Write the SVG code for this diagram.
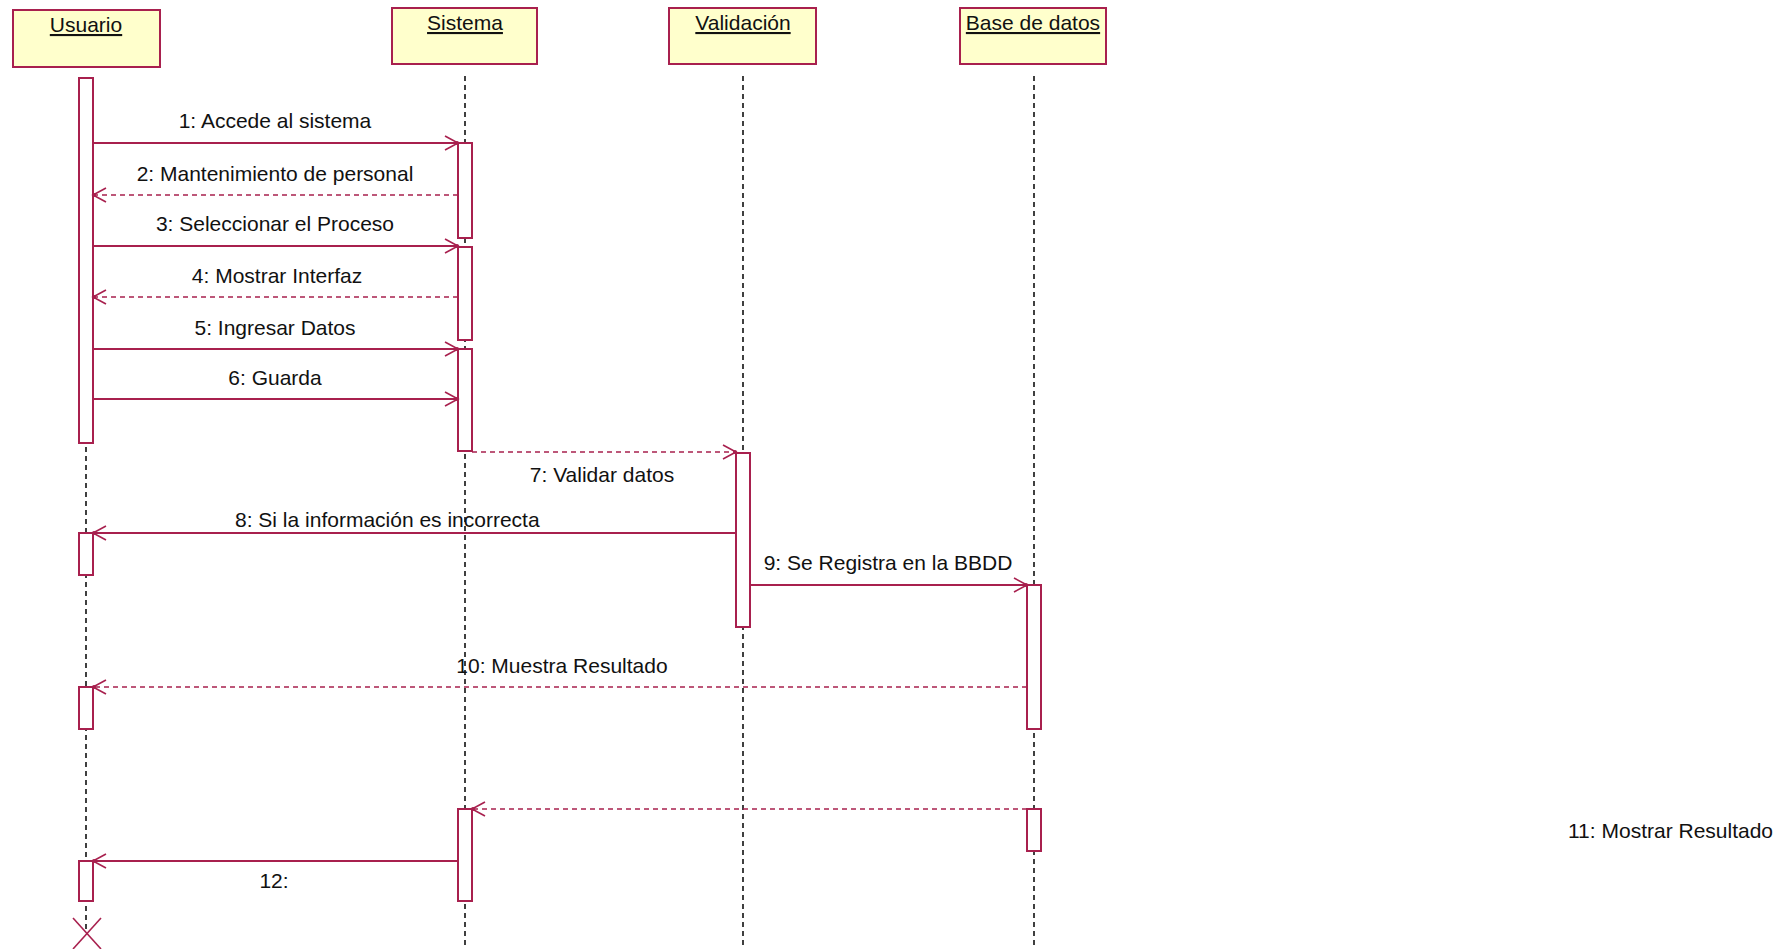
<svg xmlns="http://www.w3.org/2000/svg" width="1784" height="949" viewBox="0 0 1784 949">
<style>
.box{fill:#FFFFCC;stroke:#A8204E;stroke-width:2}
.bar{fill:#FFFFFF;stroke:#A8204E;stroke-width:2}
.life{stroke:#111;stroke-width:1.6;stroke-dasharray:5 4;fill:none}
.msg{stroke:#A8204E;stroke-width:2;fill:none;marker-end:url(#arr)}
.ret{stroke:#A8204E;stroke-width:1.6;stroke-dasharray:5 4;fill:none;marker-end:url(#arr)}
.t{font-family:"Liberation Sans",Arial,sans-serif;font-size:21px;fill:#111}
.h{font-family:"Liberation Sans",Arial,sans-serif;font-size:21px;fill:#111;text-decoration:underline;text-anchor:middle}
.c{text-anchor:middle}
</style>
<defs>
<marker id="arr" markerUnits="userSpaceOnUse" markerWidth="20" markerHeight="20" viewBox="-16 -10 20 20" refX="0" refY="0" orient="auto" overflow="visible">
<path d="M-13,-7 L0,0 L-13,7" fill="none" stroke="#A8204E" stroke-width="1.6"/>
<circle cx="-1" cy="0" r="2" fill="#A8204E"/>
</marker>
</defs>

<g id="lifelines">
<line class="life" x1="86" y1="78" x2="86" y2="932"/>
<line class="life" x1="465" y1="76" x2="465" y2="949"/>
<line class="life" x1="743" y1="76" x2="743" y2="949"/>
<line class="life" x1="1034" y1="76" x2="1034" y2="949"/>
</g>

<g id="usuario">
<rect class="box" x="13" y="10" width="147" height="57"/>
<text class="h" x="86" y="32">Usuario</text>
</g>
<g id="sistema">
<rect class="box" x="392" y="8" width="145" height="56"/>
<text class="h" x="465" y="30">Sistema</text>
</g>
<g id="validacion">
<rect class="box" x="669" y="8" width="147" height="56"/>
<text class="h" x="743" y="30">Validación</text>
</g>
<g id="basedatos">
<rect class="box" x="960" y="8" width="146" height="56"/>
<text class="h" x="1033" y="30">Base de datos</text>
</g>

<g id="activations">
<rect class="bar" x="79" y="78" width="14" height="365"/>
<rect class="bar" x="79" y="533" width="14" height="42"/>
<rect class="bar" x="79" y="687" width="14" height="42"/>
<rect class="bar" x="79" y="861" width="14" height="40"/>
<rect class="bar" x="458" y="143" width="14" height="95"/>
<rect class="bar" x="458" y="247" width="14" height="93"/>
<rect class="bar" x="458" y="349" width="14" height="102"/>
<rect class="bar" x="458" y="809" width="14" height="92"/>
<rect class="bar" x="736" y="453" width="14" height="174"/>
<rect class="bar" x="1027" y="585" width="14" height="144"/>
<rect class="bar" x="1027" y="809" width="14" height="42"/>
</g>

<g id="destroy">
<line x1="73" y1="918" x2="101" y2="949" stroke="#A8204E" stroke-width="1.6"/>
<line x1="101" y1="918" x2="73" y2="949" stroke="#A8204E" stroke-width="1.6"/>
</g>

<g id="connectors">
<line class="msg" x1="93" y1="143" x2="458" y2="143"/>
<line class="ret" x1="458" y1="195" x2="93" y2="195"/>
<line class="msg" x1="93" y1="246" x2="458" y2="246"/>
<line class="ret" x1="458" y1="297" x2="93" y2="297"/>
<line class="msg" x1="93" y1="349" x2="458" y2="349"/>
<line class="msg" x1="93" y1="399" x2="458" y2="399"/>
<line class="ret" x1="472" y1="452" x2="736" y2="452"/>
<line class="msg" x1="736" y1="533" x2="93" y2="533"/>
<line class="msg" x1="750" y1="585" x2="1027" y2="585"/>
<line class="ret" x1="1027" y1="687" x2="93" y2="687"/>
<line class="ret" x1="1027" y1="809" x2="472" y2="809"/>
<line class="msg" x1="458" y1="861" x2="93" y2="861"/>
</g>

<g id="labels">
<text class="t c" x="275" y="128">1: Accede al sistema</text>
<text class="t c" x="275" y="181">2: Mantenimiento de personal</text>
<text class="t c" x="275" y="231">3: Seleccionar el Proceso</text>
<text class="t c" x="277" y="283">4: Mostrar Interfaz</text>
<text class="t c" x="275" y="335">5: Ingresar Datos</text>
<text class="t c" x="275" y="385">6: Guarda</text>
<text class="t c" x="602" y="482">7: Validar datos</text>
<text class="t" x="235" y="527">8: Si la información es incorrecta</text>
<text class="t c" x="888" y="570">9: Se Registra en la BBDD</text>
<text class="t c" x="562" y="673">10: Muestra Resultado</text>
<text class="t" x="1568" y="838">11: Mostrar Resultado</text>
<text class="t c" x="274" y="888">12:</text>
</g>
</svg>
